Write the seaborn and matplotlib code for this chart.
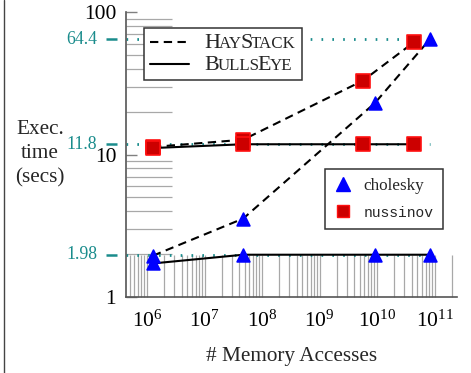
import numpy as np
import pandas as pd
import seaborn as sns
import matplotlib.pyplot as plt
import matplotlib.transforms as mtransforms
from matplotlib.ticker import LogLocator, FixedLocator, FixedFormatter, NullFormatter
from matplotlib.lines import Line2D
from matplotlib.offsetbox import AnchoredOffsetbox, DrawingArea, HPacker, TextArea, VPacker

# ---- data -------------------------------------------------------------
benchmarks = ["cholesky", "nussinov"]
tools = ["HayStack", "BullsEye"]

cholesky_accesses = [1.27e6, 4.7e7, 9.2e9, 8.3e10]
cholesky_haystack = [1.95, 3.55, 23.0, 64.4]
cholesky_bullseye = [1.72, 1.98, 1.98, 1.98]

nussinov_accesses = [1.27e6, 4.7e7, 5.7e9, 4.4e10]
nussinov_haystack = [11.3, 12.7, 33.0, 61.5]
nussinov_bullseye = [11.1, 11.8, 11.8, 11.8]

reference_times = [64.4, 11.8, 1.98]
reference_labels = ["64.4", "11.8", "1.98"]

x_tick_exponents = [6, 7, 8, 9, 10, 11]
y_ticks = [1, 10, 100]
y_tick_labels = ["1", "10", "100"]

rows = []
for bench, xs, hay, bull in [("cholesky", cholesky_accesses, cholesky_haystack, cholesky_bullseye),
                             ("nussinov", nussinov_accesses, nussinov_haystack, nussinov_bullseye)]:
    for x, h, b in zip(xs, hay, bull):
        rows.append(dict(benchmark=bench, tool="HayStack", accesses=x, time=h))
        rows.append(dict(benchmark=bench, tool="BullsEye", accesses=x, time=b))
df = pd.DataFrame(rows)

# ---- style ------------------------------------------------------------
sns.set_theme(style="white")
SERIF = ["Liberation Serif", "DejaVu Serif"]
plt.rcParams["font.family"] = SERIF
plt.rcParams["mathtext.fontset"] = "custom"
plt.rcParams["mathtext.rm"] = "Liberation Serif"

TEAL = "#1a8c8c"
TICK_GRAY = "#a8a8a8"
SPINE_GRAY = "#555555"

fig = plt.figure(figsize=(4.71, 3.73), dpi=100)
W, H = 471, 373
ax = fig.add_axes([126 / W, 1 - 297 / H, 331 / W, 285 / H])
ax.set_xscale("log")
ax.set_yscale("log")
xmin, xmax = 10 ** 5.635, 10 ** 11.39
ax.set_xlim(xmin, xmax)
ax.set_ylim(1, 100)
ax.set_axisbelow(True)

# reference levels (dotted)
x_end = max(cholesky_accesses + nussinov_accesses)
ax.hlines(reference_times, xmin, x_end, colors=TEAL, linestyles=(0, (0.6, 3.3)),
          lw=2.0, zorder=1.5)

# lines
line_styles = {"HayStack": (0, (4, 2.6)), "BullsEye": "-"}
for bench in benchmarks:
    for tool in tools:
        sub = df[(df.benchmark == bench) & (df.tool == tool)]
        sns.lineplot(data=sub, x="accesses", y="time", ax=ax, color="black",
                     linestyle=line_styles[tool], lw=1.5, estimator=None,
                     sort=False, legend=False, zorder=3)

# markers
marker_style = {
    "cholesky": dict(marker="^", color="#0000ff", edgecolor="#0000ff", s=85),
    "nussinov": dict(marker="s", color="#cc0000", edgecolor="#ff1010", s=95),
}
for bench in benchmarks:
    sub = df[df.benchmark == bench]
    st = marker_style[bench]
    sns.scatterplot(data=sub, x="accesses", y="time", ax=ax, marker=st["marker"],
                    color=st["color"], edgecolor=st["edgecolor"], linewidth=1.2,
                    s=st["s"], legend=False, zorder=4)

# ---- axes -------------------------------------------------------------
for side in ["top", "right"]:
    ax.spines[side].set_visible(False)
for side in ["left", "bottom"]:
    ax.spines[side].set_color(SPINE_GRAY)
    ax.spines[side].set_linewidth(1.2)

ax.xaxis.set_major_locator(FixedLocator([10.0 ** e for e in x_tick_exponents]))
ax.xaxis.set_major_formatter(FixedFormatter([rf"$\mathregular{{10^{{{e}}}}}$" for e in x_tick_exponents]))
ax.xaxis.set_minor_locator(LogLocator(base=10, subs=np.arange(2, 10), numticks=50))
ax.xaxis.set_minor_formatter(NullFormatter())
ax.yaxis.set_major_locator(FixedLocator(y_ticks))
ax.yaxis.set_major_formatter(FixedFormatter(y_tick_labels))
ax.yaxis.set_minor_locator(LogLocator(base=10, subs=np.arange(2, 10), numticks=50))
ax.yaxis.set_minor_formatter(NullFormatter())

ax.tick_params(axis="x", which="both", bottom=True, top=False, direction="in",
               length=30.5, width=0.9, color=TICK_GRAY, labelsize=15.5, pad=10,
               labelcolor="black")
ax.tick_params(axis="y", which="minor", left=True, right=False, direction="in",
               length=33, width=0.9, color=TICK_GRAY)
ax.tick_params(axis="y", which="major", left=True, right=False, direction="in",
               length=8, width=1.0, color="#808080", labelsize=15.5, pad=7,
               labelcolor="black")

ax.set_xlabel("# Memory Accesses", fontsize=15.3, labelpad=11)
ax.set_ylabel("")

# teal reference labels with short outside marks
blend = mtransforms.blended_transform_factory(ax.transAxes, ax.transData)
for val, lab in zip(reference_times, reference_labels):
    ax.plot([-0.061, -0.027], [val, val], transform=blend, color=TEAL, lw=1.8,
            clip_on=False, solid_capstyle="butt")
    ax.text(-0.087, val, lab, transform=blend, ha="right", va="center",
            color=TEAL, fontsize=12.8)

# y label
fig.text(40 / W, 1 - 154 / H, "Exec.\ntime\n(secs)", ha="center", va="center",
         fontsize=15.3, linespacing=1.35)

# tool legend with small-caps names
def caps_label(parts):
    return HPacker(children=[TextArea(t, textprops=dict(size=s, family=SERIF))
                             for t, s in parts], align="baseline", pad=0, sep=-1)

def sample(ls):
    da = DrawingArea(30, 10, 0, 0)
    da.add_artist(Line2D([0, 28], [4, 4], color="black", lw=1.5, linestyle=ls))
    return da

big, small = 15.8, 12.2
row1 = HPacker(children=[sample(line_styles["HayStack"]),
                         caps_label([("H", big), ("AY", small), ("S", big), ("TACK", small)])],
               align="baseline", pad=0, sep=9)
row2 = HPacker(children=[sample(line_styles["BullsEye"]),
                         caps_label([("B", big), ("ULLS", small), ("E", big), ("YE", small)])],
               align="baseline", pad=0, sep=9)
box = VPacker(children=[row1, row2], align="left", pad=0, sep=2)
tool_legend = AnchoredOffsetbox(loc="upper left", child=box, pad=0.38, borderpad=0,
                                frameon=True, bbox_to_anchor=(0.054, 0.944),
                                bbox_transform=ax.transAxes)
tool_legend.patch.set_edgecolor("#333333")
tool_legend.patch.set_linewidth(1.1)
tool_legend.patch.set_boxstyle("square", pad=0)
tool_legend.set_zorder(6)
ax.add_artist(tool_legend)

# benchmark legend
handles = [Line2D([], [], ls="none", marker="^", color="#0000ff", ms=9.5),
           Line2D([], [], ls="none", marker="s", markerfacecolor="#cc0000",
                  markeredgecolor="#ff1010", ms=9)]
leg = ax.legend(handles, benchmarks, loc="upper left", bbox_to_anchor=(0.601, 0.449),
                frameon=True, fancybox=False, framealpha=1, edgecolor="#333333",
                fontsize=12.3, handlelength=1.0, handletextpad=0.7, borderpad=0.55,
                labelspacing=0.6, borderaxespad=0)
leg.get_frame().set_linewidth(1.1)
leg.texts[1].set_family(["Liberation Mono", "DejaVu Sans Mono"])
leg.texts[1].set_fontsize(10.5)
leg.set_zorder(6)

# left page rule
fig.add_artist(Line2D([3.5 / W, 3.5 / W], [0, 1], color="#444444", lw=1.0))

fig.savefig("out.png", dpi=100)
